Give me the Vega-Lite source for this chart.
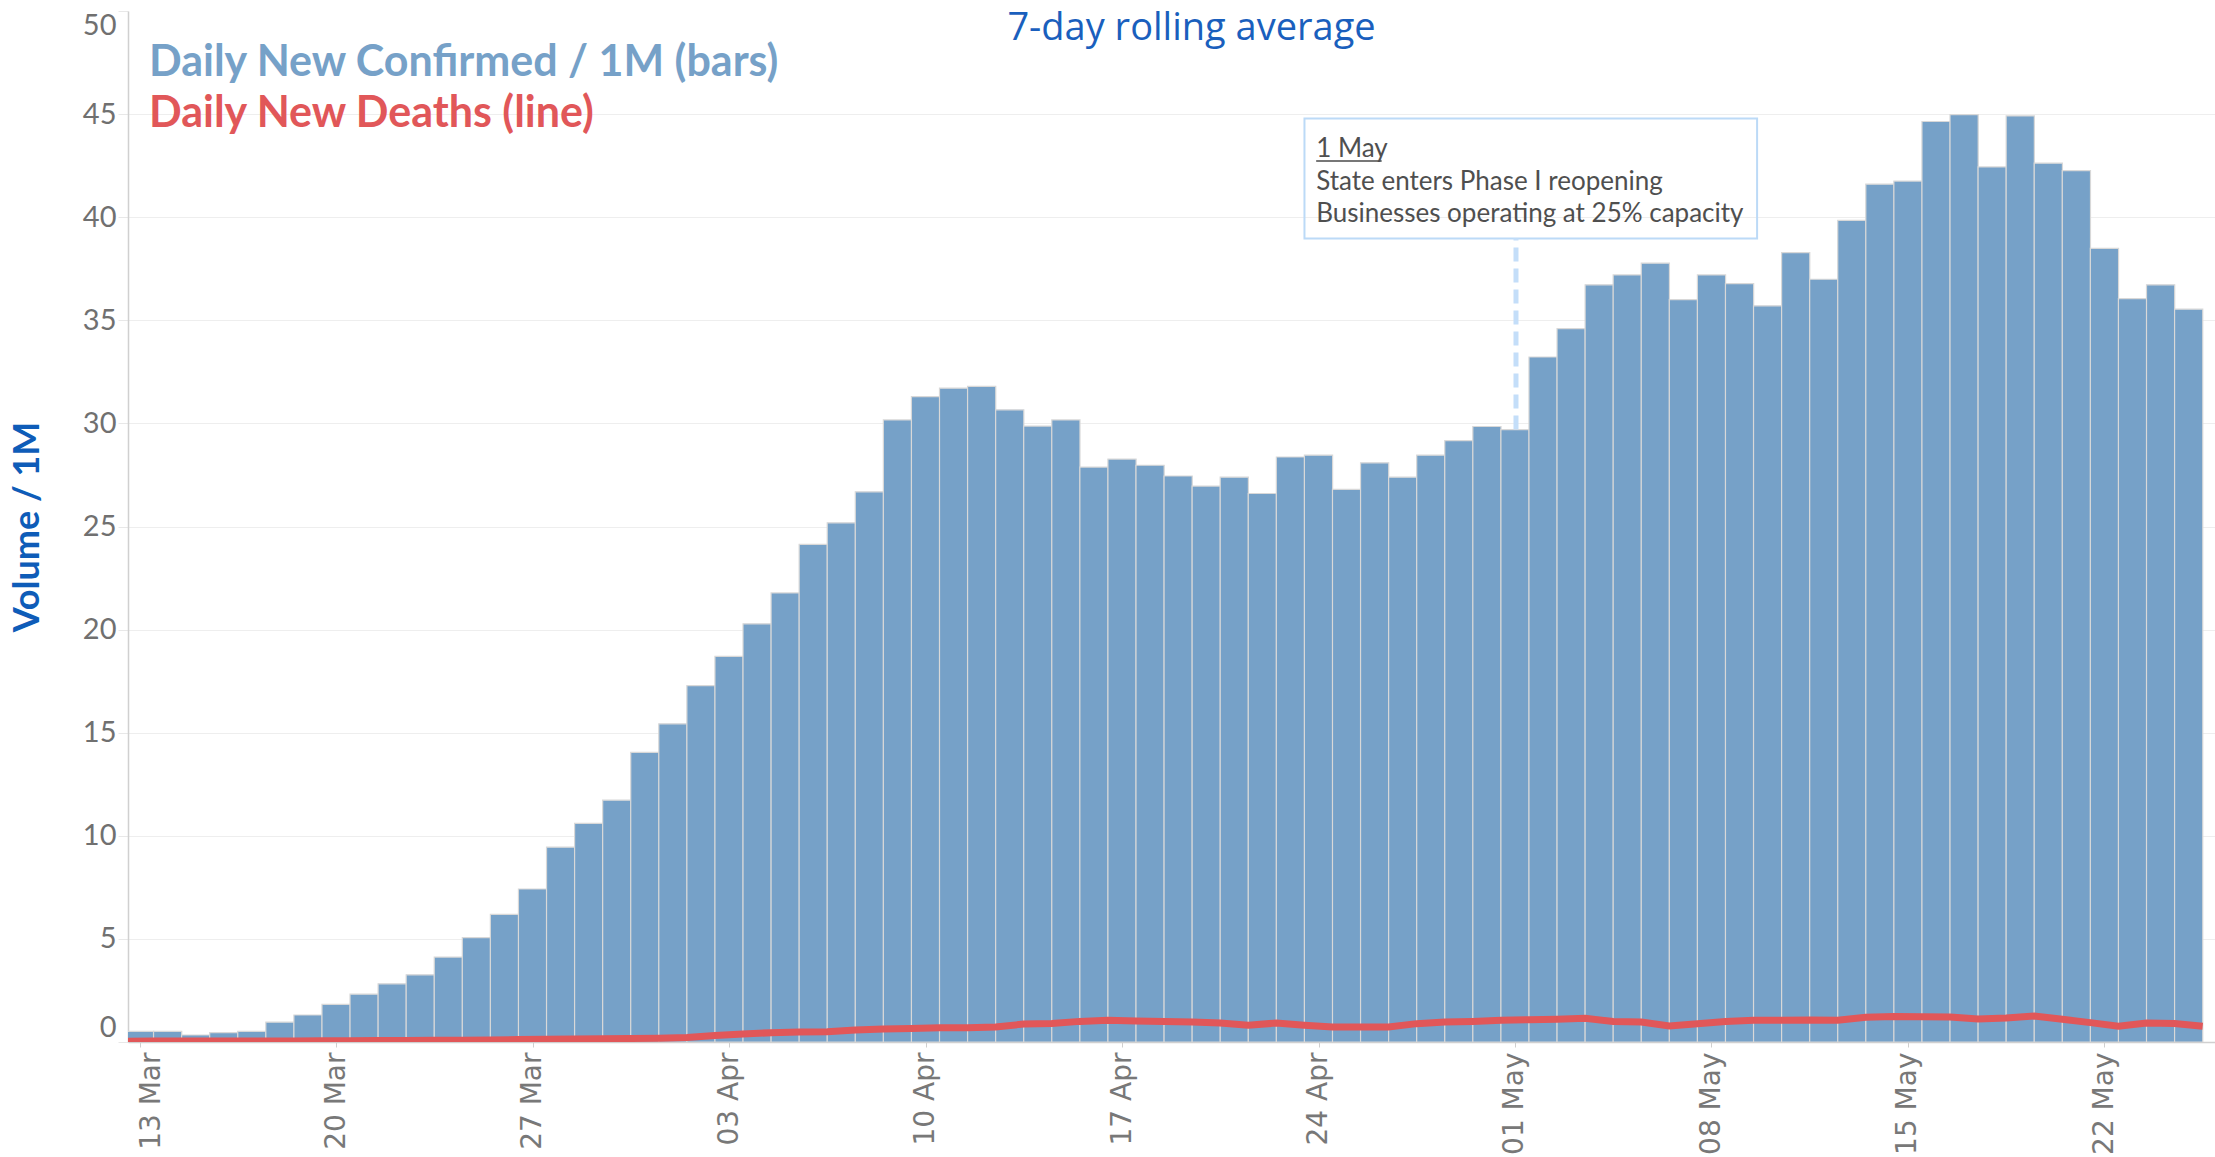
{
  "$schema": "https://vega.github.io/schema/vega-lite/v6.json",
  "width": 2087,
  "height": 1031,
  "autosize": {"type": "none"},
  "padding": {"left": 128, "top": 11, "right": 0, "bottom": 115},
  "background": "white",
  "config": {"view": {"stroke": null}},
  "title": {
    "text": "7-day rolling average",
    "anchor": "middle",
    "font": "Open Sans",
    "fontSize": 38,
    "fontWeight": "normal",
    "color": "#1a5fbd",
    "dx": 20,
    "dy": 41
  },
  "datasets": {
    "daily": [
      {"date": "2020-03-12", "confirmed": null, "deaths": 0.04},
      {"date": "2020-03-13", "confirmed": 0.52, "deaths": 0.05},
      {"date": "2020-03-14", "confirmed": 0.52, "deaths": 0.05},
      {"date": "2020-03-15", "confirmed": 0.34, "deaths": 0.05},
      {"date": "2020-03-16", "confirmed": 0.45, "deaths": 0.05},
      {"date": "2020-03-17", "confirmed": 0.52, "deaths": 0.05},
      {"date": "2020-03-18", "confirmed": 0.96, "deaths": 0.05},
      {"date": "2020-03-19", "confirmed": 1.31, "deaths": 0.06},
      {"date": "2020-03-20", "confirmed": 1.82, "deaths": 0.06},
      {"date": "2020-03-21", "confirmed": 2.32, "deaths": 0.07},
      {"date": "2020-03-22", "confirmed": 2.82, "deaths": 0.07},
      {"date": "2020-03-23", "confirmed": 3.26, "deaths": 0.08},
      {"date": "2020-03-24", "confirmed": 4.12, "deaths": 0.09},
      {"date": "2020-03-25", "confirmed": 5.06, "deaths": 0.1},
      {"date": "2020-03-26", "confirmed": 6.19, "deaths": 0.12},
      {"date": "2020-03-27", "confirmed": 7.42, "deaths": 0.13},
      {"date": "2020-03-28", "confirmed": 9.45, "deaths": 0.15},
      {"date": "2020-03-29", "confirmed": 10.6, "deaths": 0.16},
      {"date": "2020-03-30", "confirmed": 11.73, "deaths": 0.17},
      {"date": "2020-03-31", "confirmed": 14.05, "deaths": 0.18},
      {"date": "2020-04-01", "confirmed": 15.43, "deaths": 0.22},
      {"date": "2020-04-02", "confirmed": 17.28, "deaths": 0.32},
      {"date": "2020-04-03", "confirmed": 18.7, "deaths": 0.39},
      {"date": "2020-04-04", "confirmed": 20.28, "deaths": 0.45},
      {"date": "2020-04-05", "confirmed": 21.78, "deaths": 0.48},
      {"date": "2020-04-06", "confirmed": 24.13, "deaths": 0.5},
      {"date": "2020-04-07", "confirmed": 25.18, "deaths": 0.58},
      {"date": "2020-04-08", "confirmed": 26.68, "deaths": 0.63},
      {"date": "2020-04-09", "confirmed": 30.17, "deaths": 0.66},
      {"date": "2020-04-10", "confirmed": 31.3, "deaths": 0.69},
      {"date": "2020-04-11", "confirmed": 31.71, "deaths": 0.69},
      {"date": "2020-04-12", "confirmed": 31.8, "deaths": 0.73},
      {"date": "2020-04-13", "confirmed": 30.66, "deaths": 0.87},
      {"date": "2020-04-14", "confirmed": 29.87, "deaths": 0.9},
      {"date": "2020-04-15", "confirmed": 30.17, "deaths": 1.0},
      {"date": "2020-04-16", "confirmed": 27.88, "deaths": 1.05},
      {"date": "2020-04-17", "confirmed": 28.27, "deaths": 1.02},
      {"date": "2020-04-18", "confirmed": 27.97, "deaths": 0.99},
      {"date": "2020-04-19", "confirmed": 27.45, "deaths": 0.97},
      {"date": "2020-04-20", "confirmed": 26.96, "deaths": 0.92},
      {"date": "2020-04-21", "confirmed": 27.39, "deaths": 0.81},
      {"date": "2020-04-22", "confirmed": 26.6, "deaths": 0.92},
      {"date": "2020-04-23", "confirmed": 28.37, "deaths": 0.81},
      {"date": "2020-04-24", "confirmed": 28.46, "deaths": 0.73},
      {"date": "2020-04-25", "confirmed": 26.8, "deaths": 0.73},
      {"date": "2020-04-26", "confirmed": 28.09, "deaths": 0.73},
      {"date": "2020-04-27", "confirmed": 27.39, "deaths": 0.89},
      {"date": "2020-04-28", "confirmed": 28.46, "deaths": 0.97},
      {"date": "2020-04-29", "confirmed": 29.16, "deaths": 1.0},
      {"date": "2020-04-30", "confirmed": 29.85, "deaths": 1.05},
      {"date": "2020-05-01", "confirmed": 29.7, "deaths": 1.08},
      {"date": "2020-05-02", "confirmed": 33.22, "deaths": 1.1},
      {"date": "2020-05-03", "confirmed": 34.6, "deaths": 1.15},
      {"date": "2020-05-04", "confirmed": 36.72, "deaths": 0.99},
      {"date": "2020-05-05", "confirmed": 37.2, "deaths": 0.97},
      {"date": "2020-05-06", "confirmed": 37.77, "deaths": 0.78},
      {"date": "2020-05-07", "confirmed": 36.0, "deaths": 0.88},
      {"date": "2020-05-08", "confirmed": 37.2, "deaths": 0.99},
      {"date": "2020-05-09", "confirmed": 36.78, "deaths": 1.05},
      {"date": "2020-05-10", "confirmed": 35.7, "deaths": 1.05},
      {"date": "2020-05-11", "confirmed": 38.28, "deaths": 1.07},
      {"date": "2020-05-12", "confirmed": 36.99, "deaths": 1.05},
      {"date": "2020-05-13", "confirmed": 39.85, "deaths": 1.2},
      {"date": "2020-05-14", "confirmed": 41.6, "deaths": 1.24},
      {"date": "2020-05-15", "confirmed": 41.75, "deaths": 1.23},
      {"date": "2020-05-16", "confirmed": 44.64, "deaths": 1.21},
      {"date": "2020-05-17", "confirmed": 44.97, "deaths": 1.11},
      {"date": "2020-05-18", "confirmed": 42.44, "deaths": 1.16},
      {"date": "2020-05-19", "confirmed": 44.91, "deaths": 1.26},
      {"date": "2020-05-20", "confirmed": 42.62, "deaths": 1.1},
      {"date": "2020-05-21", "confirmed": 42.26, "deaths": 0.94},
      {"date": "2020-05-22", "confirmed": 38.49, "deaths": 0.76},
      {"date": "2020-05-23", "confirmed": 36.05, "deaths": 0.92},
      {"date": "2020-05-24", "confirmed": 36.72, "deaths": 0.9},
      {"date": "2020-05-25", "confirmed": 35.54, "deaths": 0.76}
    ],
    "box": [
      {"start": "2020-04-23T12:00:00Z", "end": "2020-05-09T15:00:00Z", "top": 44.79, "bottom": 38.97}
    ],
    "event": [
      {"date": "2020-05-01", "barTop": 29.7, "boxBottom": 38.97}
    ],
    "underline": [
      {"start": "2020-04-23T22:00:00Z", "end": "2020-04-26T06:00:00Z", "value": 42.72}
    ],
    "notes": [
      {"at": "2020-04-23T22:00:00Z", "value": 42.9, "text": "1 May"},
      {"at": "2020-04-23T22:00:00Z", "value": 41.34, "text": "State enters Phase I reopening"},
      {"at": "2020-04-23T22:00:00Z", "value": 39.79, "text": "Businesses operating at 25% capacity"}
    ]
  },
  "layer": [
    {
      "data": {"name": "daily"},
      "mark": {"type": "bar", "width": 28.2, "stroke": "#d8d8d8", "strokeWidth": 1.2, "clip": true},
      "encoding": {
        "x": {
          "field": "date",
          "type": "temporal",
          "scale": {
            "type": "utc",
            "domain": [
              {"year": 2020, "month": 3, "date": 12, "hours": 18, "minutes": 23, "utc": true},
              {"year": 2020, "month": 5, "date": 25, "hours": 18, "minutes": 14, "utc": true}
            ]
          },
          "axis": {
            "title": null,
            "format": "%d %b",
            "values": [
              {"year": 2020, "month": 3, "date": 13, "utc": true},
              {"year": 2020, "month": 3, "date": 20, "utc": true},
              {"year": 2020, "month": 3, "date": 27, "utc": true},
              {"year": 2020, "month": 4, "date": 3, "utc": true},
              {"year": 2020, "month": 4, "date": 10, "utc": true},
              {"year": 2020, "month": 4, "date": 17, "utc": true},
              {"year": 2020, "month": 4, "date": 24, "utc": true},
              {"year": 2020, "month": 5, "date": 1, "utc": true},
              {"year": 2020, "month": 5, "date": 8, "utc": true},
              {"year": 2020, "month": 5, "date": 15, "utc": true},
              {"year": 2020, "month": 5, "date": 22, "utc": true}
            ],
            "labelAngle": 270,
            "labelFont": "DejaVu Sans",
            "labelFontSize": 28,
            "labelColor": "#787878",
            "labelPadding": 5,
            "labelOffset": {"condition": {"test": "datum.value < utc(2020, 2, 14)", "value": 12}, "value": 0},
            "tickSize": 5,
            "tickColor": "#cfcfcf",
            "domainColor": "#d0d0d0",
            "domainWidth": 1.5,
            "grid": false
          }
        },
        "y": {
          "field": "confirmed",
          "type": "quantitative",
          "scale": {"domain": [0, 50], "nice": false},
          "axis": {
            "title": "Volume / 1M",
            "titleFont": "Lato",
            "titleFontWeight": "bold",
            "titleFontSize": 36,
            "titleColor": "#0e5cb8",
            "titlePadding": 36,
            "values": [0, 5, 10, 15, 20, 25, 30, 35, 40, 45, 50],
            "labelFont": "Lato",
            "labelFontSize": 29,
            "labelColor": "#707070",
            "labelFlush": true,
            "labelFlushOffset": 0,
            "labelPadding": 2,
            "tickSize": 10,
            "tickColor": "#e8e8e8",
            "domainColor": "#d0d0d0",
            "domainWidth": 1.5,
            "grid": true,
            "gridColor": {"condition": {"test": "datum.value === 50", "value": "transparent"}, "value": "#eeeeee"}
          }
        },
        "fill": {
          "datum": "Daily New Confirmed / 1M (bars)",
          "type": "nominal",
          "scale": {"range": ["#76a1c8"]},
          "legend": {
            "title": null,
            "orient": "none",
            "legendX": -22,
            "legendY": 30,
            "padding": 0,
            "labelFont": "Lato",
            "labelFontWeight": "bold",
            "labelFontSize": 43,
            "labelColor": "#76a1c8",
            "labelLimit": 0,
            "labelOffset": 0,
            "symbolType": "circle",
            "symbolSize": 0,
            "symbolOpacity": 0,
            "symbolStrokeWidth": 0
          }
        }
      }
    },
    {
      "data": {"name": "daily"},
      "mark": {"type": "line", "strokeWidth": 7, "xOffset": 14, "clip": true, "interpolate": "linear"},
      "encoding": {
        "x": {"field": "date", "type": "temporal"},
        "y": {"field": "deaths", "type": "quantitative"},
        "stroke": {
          "datum": "Daily New Deaths (line)",
          "type": "nominal",
          "scale": {"range": ["#e15759"]},
          "legend": {
            "title": null,
            "orient": "none",
            "legendX": -22,
            "legendY": 81,
            "padding": 0,
            "labelFont": "Lato",
            "labelFontWeight": "bold",
            "labelFontSize": 43,
            "labelColor": "#e15759",
            "labelLimit": 0,
            "labelOffset": 0,
            "symbolType": "circle",
            "symbolSize": 0,
            "symbolOpacity": 0,
            "symbolStrokeWidth": 0
          }
        }
      }
    },
    {
      "data": {"name": "box"},
      "mark": {"type": "rect", "filled": false, "stroke": "#bcdaf7", "strokeWidth": 2},
      "encoding": {
        "x": {"field": "start", "type": "temporal"},
        "x2": {"field": "end"},
        "y": {"field": "top", "type": "quantitative"},
        "y2": {"field": "bottom"}
      }
    },
    {
      "data": {"name": "event"},
      "mark": {"type": "rule", "stroke": "#c4def9", "strokeWidth": 5, "strokeDash": [14, 7], "xOffset": 1},
      "encoding": {
        "x": {"field": "date", "type": "temporal"},
        "y": {"field": "barTop", "type": "quantitative"},
        "y2": {"field": "boxBottom"}
      }
    },
    {
      "data": {"name": "underline"},
      "mark": {"type": "rule", "stroke": "#4a4a4a", "strokeWidth": 1.5},
      "encoding": {
        "x": {"field": "start", "type": "temporal"},
        "x2": {"field": "end"},
        "y": {"field": "value", "type": "quantitative"}
      }
    },
    {
      "data": {"name": "notes"},
      "mark": {"type": "text", "align": "left", "baseline": "alphabetic", "font": "Lato", "fontSize": 26, "fill": "#4f4f4f"},
      "encoding": {
        "x": {"field": "at", "type": "temporal"},
        "y": {"field": "value", "type": "quantitative"},
        "text": {"field": "text"}
      }
    }
  ]
}
